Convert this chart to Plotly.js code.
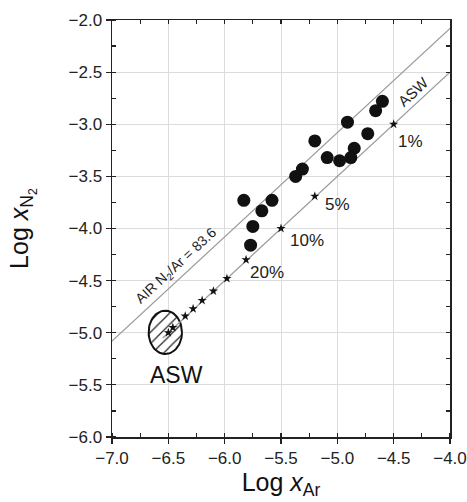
<!DOCTYPE html>
<html>
<head>
<meta charset="utf-8">
<script src="https://cdn.plot.ly/plotly-3.0.1.min.js"></script>
<style>html,body{margin:0;padding:0;background:#fff;}#chart{width:467px;height:502px;}</style>
</head>
<body>
<div id="chart"></div>
<script>
// Sample points (large black dots): Log x_Ar, Log x_N2
const sampleX = [-4.60, -4.66, -4.91, -4.73, -4.85, -4.88, -4.98, -5.09, -5.20, -5.31, -5.37, -5.58, -5.83, -5.67, -5.75, -5.77];
const sampleY = [-2.78, -2.87, -2.98, -3.09, -3.23, -3.32, -3.35, -3.32, -3.16, -3.43, -3.50, -3.73, -3.73, -3.83, -3.98, -4.16];

// Mixing markers along the ASW line
const mixX = [-4.50, -5.20, -5.50, -5.81, -5.98, -6.10, -6.20, -6.28, -6.35, -6.46, -6.50];
const mixY = [-3.00, -3.69, -4.00, -4.30, -4.48, -4.60, -4.69, -4.77, -4.84, -4.95, -5.00];
const mixLabels = ['1%', '5%', '10%', '20%'];

// Reference lines
const airLineX = [-7.0, -4.0];
const airLineY = [-5.08, -2.08];
const aswLineX = [-6.55, -4.0];
const aswLineY = [-5.05, -2.50];

// ASW field (ellipse): centre and half-widths
const aswCentre = [-6.527, -4.996];
const aswRadius = [0.148, 0.208];

const ellX = [], ellY = [];
for (let i = 0; i <= 72; i++) {
  const t = i / 72 * 2 * Math.PI;
  ellX.push(aswCentre[0] + aswRadius[0] * Math.cos(t));
  ellY.push(aswCentre[1] + aswRadius[1] * Math.sin(t));
}

const font = 'Liberation Sans, Arial, sans-serif';

const traces = [
  {x: airLineX, y: airLineY, mode: 'lines', line: {color: '#9a9a9a', width: 1.2}, hoverinfo: 'skip'},
  {x: ellX, y: ellY, mode: 'lines', fill: 'toself', fillcolor: 'white',
   fillpattern: {shape: '/', fgcolor: '#222', bgcolor: 'white', size: 8, solidity: 0.15},
   line: {color: '#111', width: 2}, hoverinfo: 'skip'},
  {x: aswLineX, y: aswLineY, mode: 'lines', line: {color: '#9a9a9a', width: 1.2}, hoverinfo: 'skip'},
  {x: mixX, y: mixY, mode: 'markers', marker: {symbol: 'star', size: 7, color: '#111'}},
  {x: sampleX, y: sampleY, mode: 'markers', marker: {symbol: 'circle', size: 13, color: '#111'}},
  {x: [-7], y: [-6], xaxis: 'x2', yaxis: 'y2', mode: 'markers', marker: {opacity: 0}, hoverinfo: 'skip'}
];

const pctShift = [[2, -17], [8, -8], [7, -12], [2, -13]];
const annotations = mixLabels.map((t, i) => ({
  x: mixX[i], y: mixY[i], xref: 'x', yref: 'y', text: t, showarrow: false,
  xanchor: 'left', yanchor: 'middle', xshift: pctShift[i][0], yshift: pctShift[i][1],
  font: {family: font, size: 17, color: '#222'}
}));
annotations.push(
  {x: -6.43, y: -4.356, xref: 'x', yref: 'y', text: 'AIR N<sub>2</sub>/Ar = 83.6', showarrow: false,
   textangle: -42.7, font: {family: font, size: 14, color: '#222'}},
  {x: -4.325, y: -2.69, xref: 'x', yref: 'y', text: 'ASW', showarrow: false,
   textangle: -42.7, font: {family: font, size: 15, color: '#222'}},
  {x: aswCentre[0], y: aswCentre[1], xref: 'x', yref: 'y', text: 'ASW', showarrow: false,
   xshift: 11, yshift: -43, font: {family: font, size: 23, color: '#111'}},
  {x: -0.265, y: 0.5, xref: 'paper', yref: 'paper', text: 'Log <i>x</i><sub>N<sub>2</sub></sub>', showarrow: false,
   textangle: -90, xanchor: 'center', yanchor: 'middle', font: {family: font, size: 25, color: '#111'}}
);

const axisCommon = {
  showgrid: true, gridcolor: '#dcdcdc', gridwidth: 1,
  zeroline: false, showline: true, linecolor: '#222', linewidth: 1.5,
  ticks: 'outside', ticklen: 5, tickwidth: 1.2, tickcolor: '#222',
  dtick: 0.5, tickformat: '.1f', ticklabeloverflow: 'allow',
  minor: {dtick: 0.25, ticks: 'inside', ticklen: 4, tickwidth: 1.2, tickcolor: '#222', showgrid: false},
  tickfont: {family: font, size: 17, color: '#222'}
};

const layout = {
  width: 467, height: 502,
  margin: {l: 112, r: 17, t: 20, b: 65},
  paper_bgcolor: 'white', plot_bgcolor: 'white',
  showlegend: false,
  xaxis: Object.assign({}, axisCommon, {range: [-7, -4], tick0: -7,
    title: {text: 'Log <i>x</i><sub>Ar</sub>', font: {family: font, size: 25, color: '#111'}, standoff: 4}}),
  yaxis: Object.assign({}, axisCommon, {range: [-6, -2], tick0: -6}),
  xaxis2: {overlaying: 'x', side: 'top', range: [-7, -4], anchor: 'y2', showgrid: false, zeroline: false,
    showline: true, linecolor: '#222', linewidth: 1.5, ticks: 'inside', ticklen: 4, tickwidth: 1.2, tickcolor: '#222',
    dtick: 0.25, tick0: -7, showticklabels: false},
  yaxis2: {overlaying: 'y', side: 'right', range: [-6, -2], anchor: 'x2', showgrid: false, zeroline: false,
    showline: true, linecolor: '#222', linewidth: 1.5, ticks: 'inside', ticklen: 4, tickwidth: 1.2, tickcolor: '#222',
    dtick: 0.25, tick0: -6, showticklabels: false},
  annotations: annotations
};

Plotly.newPlot('chart', traces, layout, {displayModeBar: false, staticPlot: true});
</script>
</body>
</html>
